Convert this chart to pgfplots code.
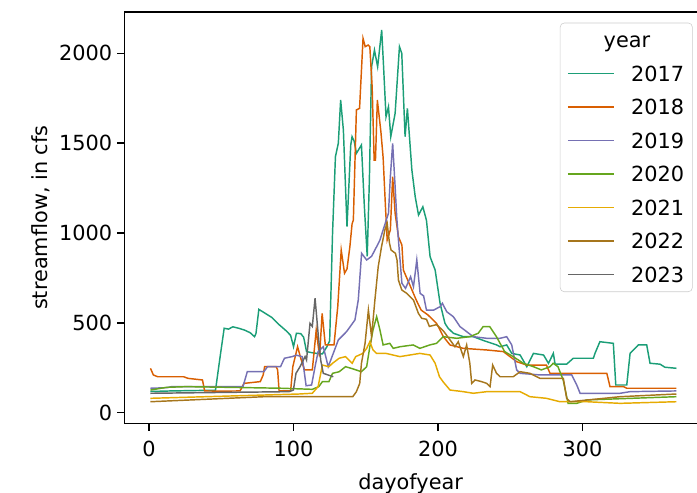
\documentclass[border=0pt]{standalone}
\usepackage{pgfplots}
\pgfplotsset{compat=1.18}
\usepackage{fontspec}
\setmainfont{DejaVu Sans}
\definecolor{c17}{HTML}{1B9E77}
\definecolor{c18}{HTML}{D95F02}
\definecolor{c19}{HTML}{7570B3}
\definecolor{c20}{HTML}{66A61E}
\definecolor{c21}{HTML}{E6AB02}
\definecolor{c22}{HTML}{A6761D}
\definecolor{c23}{HTML}{666666}
\begin{document}
\begin{tikzpicture}
\begin{axis}[
  name=ax,
  scale only axis,
  width=412.3pt, height=296.1pt,
  xmin=-17.1, xmax=379.2,
  ymin=-59, ymax=2230,
  axis x line*=box, axis y line*=left,
  xtick pos=left, ytick pos=left,
  tick align=outside,
  major tick length=5.25pt,
  xtick={0,100,200,300},
  ytick={0,500,1000,1500,2000},
  every tick/.style={black, line width=1.1pt},
  axis line style={black, line width=1.1pt},
  /pgf/number format/assume math mode=true,
  /pgf/number format/set thousands separator={},
  tick label style={font=\fontsize{15}{18}\selectfont},
  xticklabel style={yshift=-4pt},
  label style={font=\fontsize{15}{18}\selectfont},
  xlabel={dayofyear},
  xlabel style={yshift=-5pt},
  ylabel={streamflow, in cfs},
  legend cell align=left,
  legend image code/.code={\draw[line width=1.05pt,#1] (0pt,0pt) -- (33pt,0pt);},
  legend style={at={(rel axis cs:1,1)}, anchor=north east, xshift=-3.1pt, yshift=-7.7pt,
    draw=black!20, rounded corners=3pt, fill=white, fill opacity=0.8, text opacity=1,
    inner xsep=5pt, inner ysep=6pt, row sep=11.3pt, column sep=11pt,
    font=\fontsize{15}{18}\selectfont,
    nodes={inner sep=1pt, text height=10.8pt, text depth=0pt}},
  every axis plot/.append style={line width=1.05pt},
]
\addlegendimage{empty legend}
\addlegendentry{\hspace*{-19.7pt}year}
% 2017
\addplot[c17] coordinates {
(1,118) (15,121) (30,123) (46,125) (49,300) (52,470) (55,465) (58,478) (62,470) (66,460) (70,445) (73,423) (74,440) (76,575) (80,555) (85,530) (90,490) (95,455) (98,430) (100,367) (102,442) (105,440) (107,420) (109,340) (112,335) (116,330) (120,327) (123,366) (125,400) (127,1000) (129,1425) (131,1500) (132.6,1740) (134.5,1573) (137,1035) (139.6,1490) (140.5,1536) (142,1510) (143.5,1443) (147,1490) (149,1150) (151,870) (152.5,1300) (154,1925) (156,2018) (158.2,1925) (161,2130) (162.2,1944) (164,1647) (165.7,1703) (167.3,1536) (170.3,1666) (173.3,2037) (174.9,2000) (177.2,1536) (178.8,1694) (181.9,1350) (184.2,1202) (186.5,1100) (189.5,1146) (192,1070) (194.5,868) (198,794) (201.4,609) (204.8,497) (207,470) (210.6,442) (217.5,423) (224.4,423) (232,400) (240.6,377) (242.9,367) (247.5,377) (251,330) (256.8,321) (261.4,256) (266,330) (273,321) (276.4,275) (279.8,330) (281,270) (289,270) (293.6,303) (307.5,303) (308.6,330) (312,395) (321.3,386) (323,154) (330.6,154) (332.9,330) (338.6,377) (344.4,377) (346.7,275) (353.6,270) (357,253) (365,247)};
\addlegendentry{2017}
% 2018
\addplot[c18] coordinates {
(1,247) (3,210) (6,200) (15,200) (24,200) (27,191) (37,182) (38.5,121) (50,120) (63,121) (65.7,163) (77,173) (79,210) (80,256) (88,256) (89,238) (90,121) (98,121) (99.5,256) (102.8,367) (105,303) (107.6,238) (113,238) (115.7,460) (118,312) (119.8,553) (122,377) (128,377) (130.6,590) (133,905) (135.3,776) (137,800) (139,924) (140.5,1050) (141.4,1072) (143.5,1685) (145.7,1694) (148.1,2083) (149.6,2037) (151.6,2046) (152.8,2037) (154.4,1814) (155.8,1406) (156.7,1406) (158,1740) (160.5,1560) (162,1420) (163.6,1150) (164.8,961) (167,1017) (168.6,1313) (170.3,1110) (172.6,979) (175,933) (176,794) (179,738) (181,701) (184.9,627) (188.3,571) (193,544) (199,497) (203.7,423) (208.3,377) (217.5,358) (233.7,349) (245.2,340) (254.4,284) (261.4,265) (275,265) (277.5,219) (316.8,219) (319,145) (328.3,145) (330.6,136) (365,136)};
\addlegendentry{2018}
% 2019
\addplot[c19] coordinates {
(1,136) (12,139) (15.6,145) (65,145) (68,228) (79.5,228) (82,256) (91,256) (93.7,303) (99,312) (102,320) (106,312) (108.7,150) (112.5,154) (114.9,256) (117,340) (120.6,367) (124,256) (127.5,330) (131,405) (136.7,451) (142.5,516) (144.8,627) (147.1,887) (150.6,850) (154,870) (157.5,924) (159.8,961) (162,1017) (165.7,1110) (167,1313) (168.6,1499) (170.3,1258) (171.4,1091) (172.6,961) (175,720) (177.5,692) (181,757) (183,701) (185.3,850) (187.6,664) (190,650) (192,571) (197,571) (201.4,590) (203,609) (206,562) (210.6,534) (215.2,479) (219.8,451) (224.4,423) (233.7,414) (242.9,414) (247.5,423) (251,377) (254.4,238) (256.8,219) (270.6,210) (292.5,210) (296,154) (298.3,108) (326,108) (332.9,117) (365,121)};
\addlegendentry{2019}
% 2020
\addplot[c20] coordinates {
(1,126) (12,141) (26,145) (92,136) (113,130) (117.5,145) (120,173) (124.5,173) (127,219) (131.6,228) (136,256) (140.6,245) (147,228) (150.6,256) (152.8,367) (155,460) (157.5,534) (159.8,460) (162,377) (166.6,386) (169,358) (173.6,367) (182.8,377) (187.4,358) (194.3,377) (199,386) (203.5,423) (213,414) (222,423) (227.8,442) (231.2,479) (235.8,479) (240.4,423) (246.1,340) (252,312) (259,275) (266,256) (271.5,238) (277.5,256) (279.7,275) (283,256) (286.6,182) (290,52) (296,52) (303,71) (365,89)};
\addlegendentry{2020}
% 2021
\addplot[c21] coordinates {
(1,80) (104,104) (113,108) (117,145) (120,265) (124.5,256) (127,275) (131.6,303) (136,312) (140.6,275) (143,312) (148,330) (150.6,358) (152.8,395) (155,349) (157.5,330) (164,330) (173.6,312) (187.4,330) (194.5,321) (198,275) (201,200) (203.7,170) (208.3,126) (217.5,117) (224.4,108) (233.7,117) (256.8,117) (263.6,89) (275,80) (284.4,61) (303,61) (326,52) (365,61)};
\addlegendentry{2021}
% 2022
\addplot[c22] coordinates {
(1,61) (80,89) (141,89) (143.5,117) (145.8,163) (147,275) (149.5,386) (151.8,571) (154,423) (156.3,627) (158.6,812) (160.9,924) (163.2,1017) (164.8,1054) (166.4,943) (167.5,905) (170.5,887) (171.6,850) (172.6,738) (174.9,683) (178.4,664) (183,627) (186.4,553) (188.7,525) (192,520) (194,480) (199,490) (203.7,455) (208.3,405) (211.7,367) (214,395) (217.5,312) (219.8,377) (222,275) (223.3,163) (225.6,182) (230,173) (233.7,163) (236,145) (237.8,265) (240.5,219) (243,200) (252,200) (256.8,228) (263.6,219) (270.6,191) (286.7,191) (289,80) (291.3,61) (326,89) (365,104)};
\addlegendentry{2022}
% 2023
\addplot[c23] coordinates {
(1,108) (97,117) (99.9,126) (101.7,219) (104.5,256) (108,312) (109,293) (111.4,497) (113,480) (114.9,637) (117.2,423) (118.8,293) (120.6,219) (127.5,200)};
\addlegendentry{2023}
\end{axis}
\pgfresetboundingbox
\path[use as bounding box] ([shift={(-89.5pt,-49.5pt)}]ax.south west) rectangle ([shift={(0pt,8.64pt)}]ax.north east);
\end{tikzpicture}
\end{document}
